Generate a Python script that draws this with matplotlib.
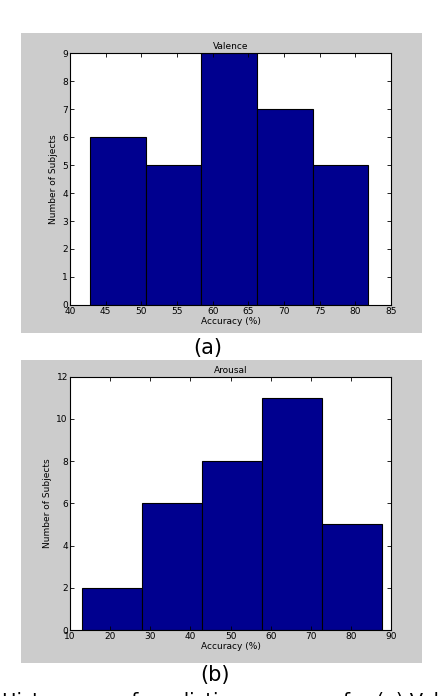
import numpy as np
import matplotlib
matplotlib.use("Agg")
import matplotlib.pyplot as plt
from matplotlib.patches import Rectangle

# valence histogram
val_edges = [42.8, 50.6, 58.4, 66.2, 74.0, 81.8]
val_counts = [6, 5, 9, 7, 5]

# arousal histogram
aro_edges = [13.1, 28.0, 42.9, 57.8, 72.7, 87.6]
aro_counts = [2, 6, 8, 11, 5]

navy = "#00008f"
gray = "#cccccc"

fig = plt.figure(figsize=(4.46, 6.96), dpi=100)
fig.patch.set_facecolor("white")

# grey matlab figure backgrounds
fig.patches.append(Rectangle((0.047, 0.5216), 0.899, 0.431, transform=fig.transFigure,
                             facecolor=gray, edgecolor="none", zorder=0))
fig.patches.append(Rectangle((0.047, 0.0474), 0.899, 0.435, transform=fig.transFigure,
                             facecolor=gray, edgecolor="none", zorder=0))


def panel(rect, edges, counts, title, xlim, xticks, ylim, yticks):
    ax = fig.add_axes(rect, zorder=2)
    ax.hist(edges[:-1], bins=edges, weights=counts, color=navy,
            edgecolor="black", linewidth=0.8)
    ax.set_xlim(*xlim)
    ax.set_ylim(*ylim)
    ax.set_xticks(xticks)
    ax.set_yticks(yticks)
    ax.tick_params(direction="in", top=True, right=True, labelsize=6.5,
                   length=3, width=0.6, pad=1.5)
    for s in ax.spines.values():
        s.set_linewidth(0.8)
    ax.set_title(title, fontsize=6.5, pad=3)
    ax.set_xlabel("Accuracy (%)", fontsize=6.5, labelpad=1)
    ax.set_ylabel("Number of Subjects", fontsize=6.5, labelpad=3)
    return ax


panel([0.157, 0.5618, 0.720, 0.362], val_edges, val_counts, "Valence",
      (40, 85), range(40, 86, 5), (0, 9), range(0, 10))
panel([0.157, 0.0948, 0.720, 0.364], aro_edges, aro_counts, "Arousal",
      (10, 90), range(10, 91, 10), (0, 12), range(0, 13, 2))

fig.text(0.466, 1 - 348 / 696, "(a)", ha="center", va="center", fontsize=15)
fig.text(0.482, 1 - 675 / 696, "(b)", ha="center", va="center", fontsize=15)
# caption line, cut off by the bottom edge as in the source scan
fig.text(0.005, 1 - 692 / 696, "Histograms of prediction accuracy for (a) Valence",
         ha="left", va="top", fontsize=14)

fig.savefig("out.png", dpi=100)
